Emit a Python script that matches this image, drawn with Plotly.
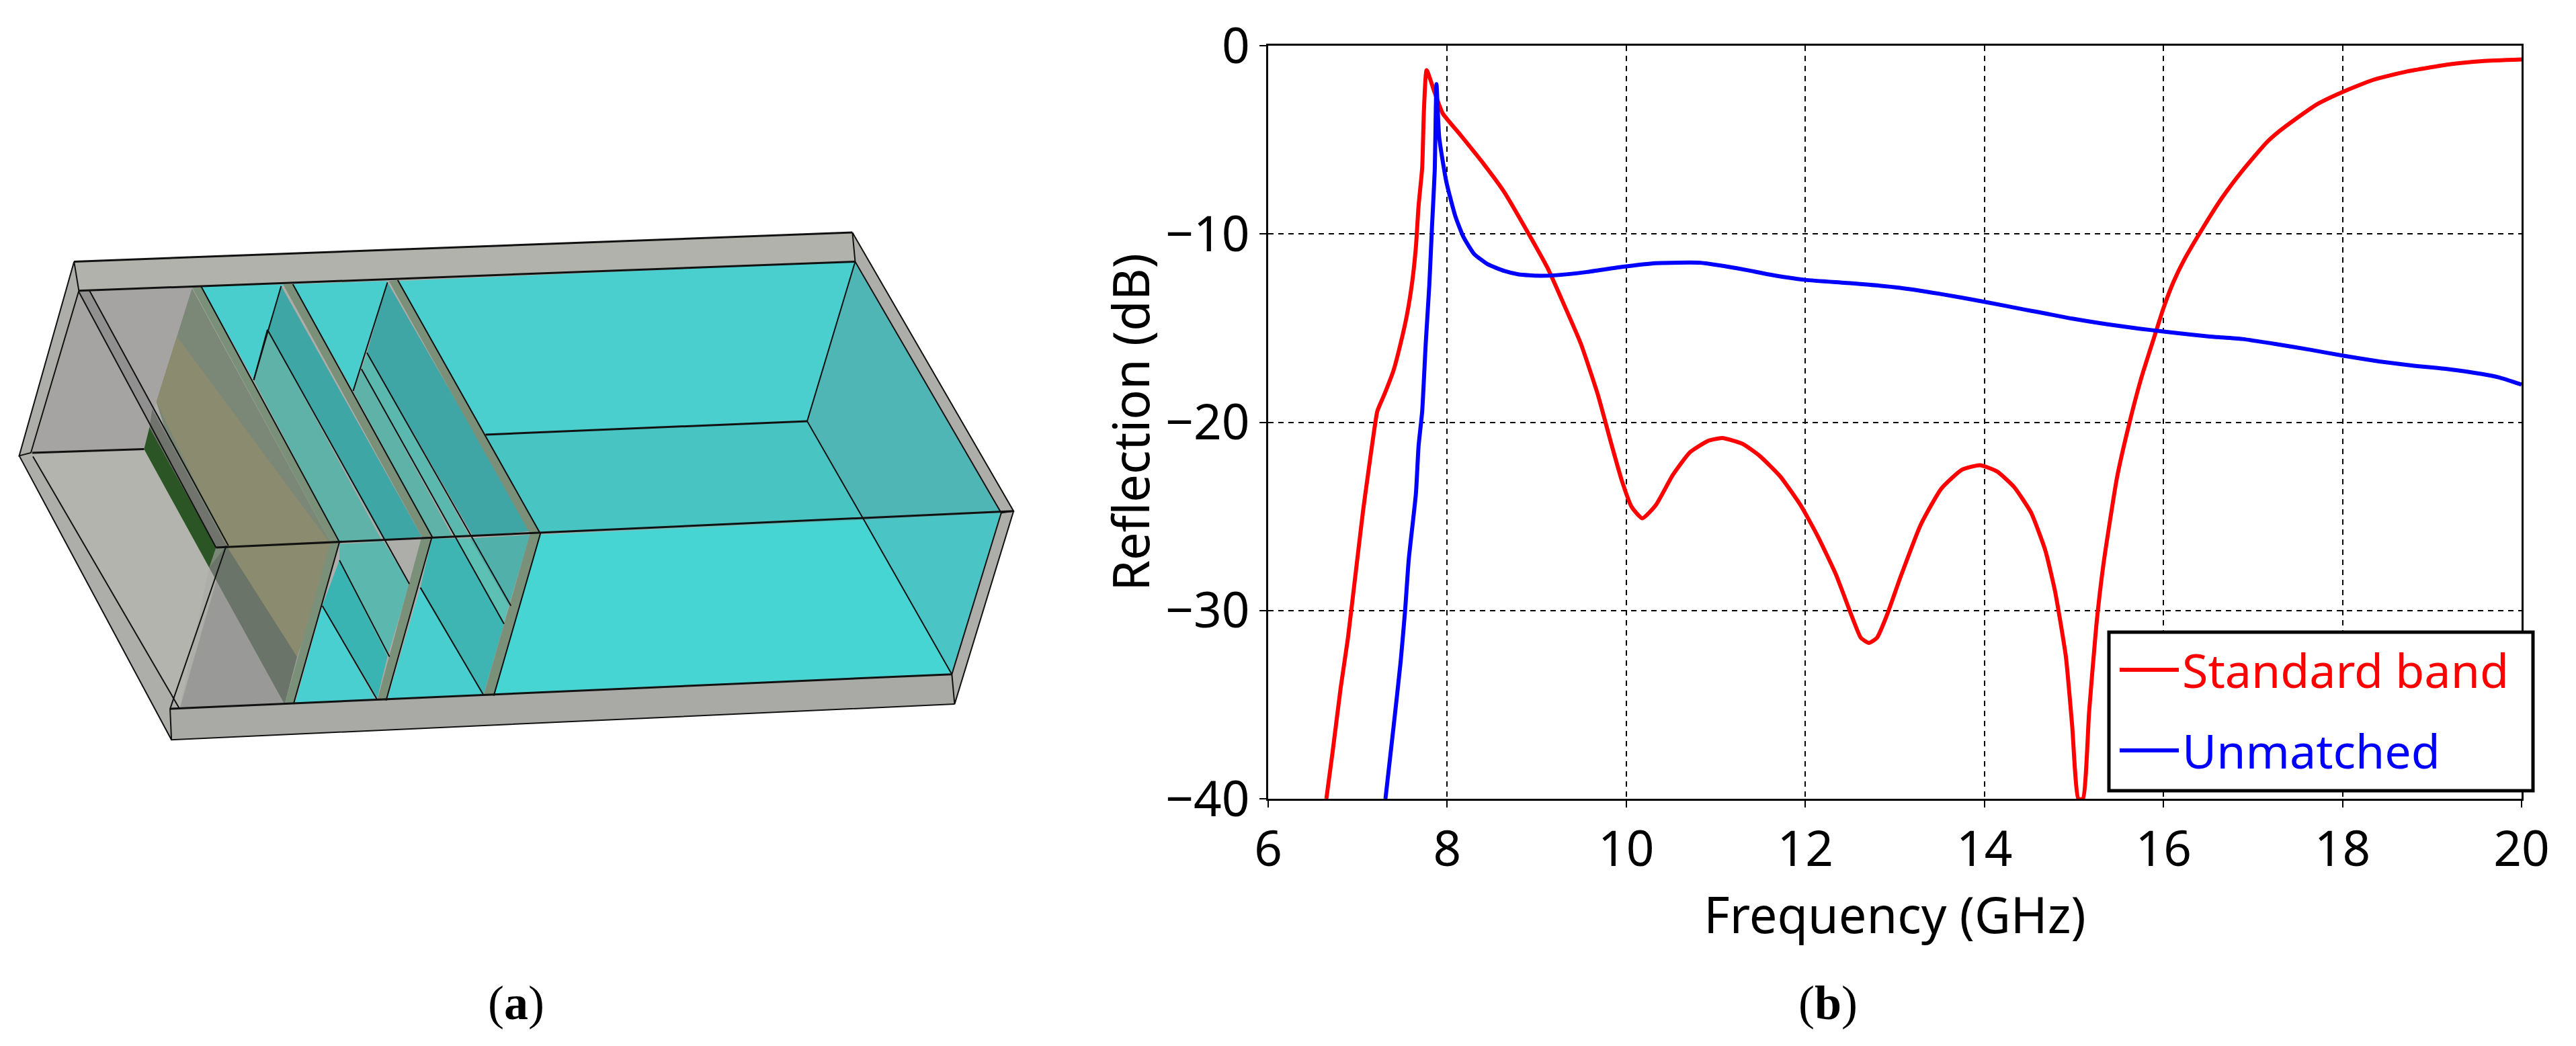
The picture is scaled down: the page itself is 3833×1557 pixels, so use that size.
import plotly.graph_objects as go

# (b) reflection curves
std_freq = [6.65, 6.72, 6.81, 6.89, 6.98, 7.06, 7.12, 7.17, 7.22, 7.30, 7.40, 7.47, 7.55, 7.61, 7.65,
            7.68, 7.72, 7.74, 7.77, 7.86, 7.95, 8.14, 8.41, 8.64, 8.91, 9.12, 9.29, 9.49, 9.68, 9.83,
            9.95, 10.06, 10.18, 10.33, 10.52, 10.71, 10.91, 11.07, 11.30, 11.49, 11.72, 11.95, 12.14,
            12.34, 12.53, 12.62, 12.71, 12.80, 12.91, 13.06, 13.29, 13.52, 13.75, 13.95, 14.14, 14.33,
            14.52, 14.68, 14.79, 14.91, 14.98, 15.05, 15.10, 15.17, 15.25, 15.33, 15.48, 15.60, 15.75,
            15.92, 16.0, 16.11, 16.23, 16.42, 16.65, 16.88, 17.15, 17.30, 17.46, 17.72, 18.0, 18.34, 18.72,
            19.18, 19.56, 20.0]
std_db = [-40, -37.5, -34.1, -31.5, -27.9, -24.7, -22.6, -20.9, -19.4, -18.5, -17.25, -16, -14.3, -12.5, -10.7,
          -8.5, -6.5, -3.4, -1.3, -2.5, -3.6, -4.7, -6.3, -7.8, -10, -11.8, -13.6, -15.8, -18.5, -21.1,
          -23.1, -24.5, -25.1, -24.4, -22.8, -21.6, -21.0, -20.84, -21.15, -21.79, -22.88, -24.43, -26.07,
          -28.07, -30.44, -31.45, -31.72, -31.45, -30.26, -28.26, -25.43, -23.52, -22.52, -22.28, -22.61, -23.43,
          -24.79, -26.8, -29, -32.45, -36.09, -40, -40, -35.36, -30.8, -27.53, -22.97, -20.42, -17.69,
          -15.13, -13.94, -12.57, -11.39, -9.84, -8.11, -6.65, -5.15, -4.52, -3.95, -3.1, -2.46, -1.82, -1.37,
          -1.0, -0.82, -0.73]
unm_freq = [7.31, 7.40, 7.48, 7.53, 7.57, 7.65, 7.68, 7.72, 7.76, 7.80, 7.83, 7.86, 7.88, 7.91, 7.99, 8.09,
            8.18, 8.30, 8.45, 8.64, 8.80, 9.03, 9.22, 9.56, 9.95, 10.33, 10.83, 11.11, 11.36, 11.57, 12.0,
            12.53, 13.06, 13.49, 14.02, 14.45, 14.58, 14.97, 15.35, 15.73, 16.0, 16.5, 16.88, 17.26, 17.65,
            18.0, 18.41, 18.8, 19.18, 19.56, 19.75, 20.0]
unm_db = [-40, -36.2, -32.7, -29.96, -27.3, -23.8, -21.26, -19.44, -15.8, -12.7, -9.6, -6.68, -2.04, -4.86, -7.23, -9.05,
          -10.15, -11.06, -11.6, -11.97, -12.15, -12.22, -12.19, -12.02, -11.75, -11.55, -11.53, -11.72, -11.93, -12.13, -12.44,
          -12.62, -12.86, -13.17, -13.62, -14.02, -14.13, -14.49, -14.78, -15.03, -15.18, -15.44, -15.58, -15.85, -16.16,
          -16.46, -16.77, -17.0, -17.18, -17.44, -17.62, -18.0]
x_ticks = [6, 8, 10, 12, 14, 16, 18, 20]
y_ticks = [0, -10, -20, -30, -40]

# (a) model drawing, faces painted back to front
panels = [
    ('#adadaa', [(108, 165), (1243, 85), (1478, 850), (1392, 1380), (250, 1478), (28, 698)]),
    ('#a9a9a6', [(248, 1393), (1388, 1298), (1392, 1380), (250, 1478)]),
    ('#b1b2ac', [(108, 165), (1243, 85), (1247, 165), (115, 245)]),
    ('#a6a4a2', [(47, 688), (115, 248), (280, 236), (228, 550), (210, 680)]),
    ('#b3b4ae', [(47, 695), (210, 682), (305, 1005), (262, 1393)]),
    ('#999998', [(262, 1393), (330, 945), (480, 940), (415, 1380)]),
    ('#909090', [(115, 248), (130, 243), (333, 945), (315, 950)]),
    ('#4acece', [(580, 218), (1247, 165), (1177, 603), (708, 640)]),
    ('#48c4c2', [(708, 640), (1177, 603), (1260, 875), (785, 912)]),
    ('#47d5d4', [(785, 915), (1260, 875), (1388, 1298), (720, 1355)]),
    ('#50b5b5', [(1247, 165), (1460, 855), (1260, 875), (1177, 603)]),
    ('#4bc4c6', [(1260, 875), (1460, 855), (1388, 1298)]),
    ('#49cdcd', [(293, 232), (413, 228), (370, 490)]),
    ('#49cdcd', [(427, 227), (565, 218), (515, 520)]),
    ('#5fb2a8', [(390, 352), (370, 490), (495, 935), (558, 935)]),
    ('#3fa6a6', [(410, 232), (390, 352), (560, 930), (615, 920)]),
    ('#5fb2a8', [(527, 460), (515, 520), (630, 920), (660, 920)]),
    ('#5ab8ae', [(535, 415), (527, 460), (665, 920), (685, 920)]),
    ('#40a5a5', [(565, 222), (535, 415), (690, 920), (775, 905)]),
    ('#5cb8ae', [(495, 940), (560, 935), (597, 1050), (565, 1250), (495, 985)]),
    ('#39b4b2', [(495, 985), (565, 1250), (550, 1365), (470, 1110)]),
    ('#49cfcf', [(470, 1110), (430, 1380), (548, 1370)]),
    ('#3fb5b3', [(630, 925), (665, 925), (735, 1160), (705, 1355), (613, 1060)]),
    ('#5cc0b4', [(665, 925), (685, 925), (742, 1110), (735, 1160)]),
    ('#52b0aa', [(685, 925), (773, 915), (742, 1110)]),
    ('#48cece', [(613, 1060), (705, 1355), (565, 1365)]),
    ('#7b8777', [(280, 238), (228, 550), (305, 1005), (415, 1380), (433, 1250), (482, 935)]),
    ('#8b8b6f', [(258, 370), (228, 550), (330, 945), (433, 1250), (470, 1070), (482, 940)]),
    ('#6b7468', [(305, 1005), (330, 945), (433, 1250), (415, 1380)]),
    ('#70746c', [(222, 570), (218, 620), (315, 950), (330, 945)]),
    ('#2b5525', [(218, 620), (210, 680), (305, 1005), (315, 950)]),
    ('#7a9078', [(280, 235), (293, 232), (495, 935), (428, 1380), (415, 1380), (482, 935)]),
    ('#7a9078', [(413, 228), (427, 227), (630, 920), (563, 1370), (550, 1370), (615, 920)]),
    ('#7a9078', [(567, 218), (580, 216), (788, 912), (720, 1357), (705, 1357), (773, 912)]),
]
thin_edges = [
    [(108, 165), (115, 245), (45, 690), (28, 698), (108, 165)],
    [(1243, 85), (1247, 165), (1460, 855), (1478, 850), (1243, 85)],
    [(1478, 850), (1392, 1380), (1388, 1298), (1460, 855)],
    [(1392, 1380), (250, 1478), (248, 1393), (330, 945)],
    [(250, 1478), (28, 698)],
    [(48, 700), (262, 1393)],
    [(115, 248), (315, 950)],
    [(130, 243), (333, 945)],
    [(1247, 165), (1177, 603), (1260, 875), (1388, 1298)],
    [(293, 232), (495, 935), (428, 1380)],
    [(427, 227), (630, 920), (563, 1370)],
    [(580, 216), (788, 912), (720, 1357)],
    [(390, 352), (370, 490)],
    [(390, 352), (597, 1050)],
    [(495, 985), (568, 1250)],
    [(470, 1110), (550, 1368)],
    [(410, 232), (370, 490)],
    [(535, 415), (745, 1110)],
    [(527, 460), (735, 1160)],
    [(565, 222), (515, 520)],
    [(613, 1060), (705, 1355)],
]
heavy_edges = [
    [(108, 165), (1243, 85)],
    [(115, 245), (1247, 165)],
    [(47, 690), (210, 680)],
    [(315, 950), (1478, 850)],
    [(708, 640), (1177, 603)],
    [(248, 1393), (1388, 1298)],
]

# page has an 8px body margin, so work in picture pixels and shift
W, H = 3825, 1549


def px(p):
    return (p - 8) / W


def py(p):
    return 1 - (p - 8) / H


fig = go.Figure()

for color, points in panels:
    fig.add_trace(go.Scatter(
        x=[p[0] for p in points] + [points[0][0]],
        y=[p[1] for p in points] + [points[0][1]],
        mode='lines', fill='toself', fillcolor=color,
        line=dict(width=0), hoverinfo='skip', showlegend=False,
        xaxis='x2', yaxis='y2',
    ))

for edges, width in ((thin_edges, 2), (heavy_edges, 3)):
    xs, ys = [], []
    for edge in edges:
        xs += [p[0] for p in edge] + [None]
        ys += [p[1] for p in edge] + [None]
    fig.add_trace(go.Scatter(
        x=xs, y=ys, mode='lines', line=dict(color='#111111', width=width),
        hoverinfo='skip', showlegend=False, xaxis='x2', yaxis='y2',
    ))

fig.add_trace(go.Scatter(x=std_freq, y=std_db, mode='lines', name='<span style="color:#ff0000">Standard band</span>',
                         line=dict(color='#ff0000', width=6, shape='spline', smoothing=0.5), legendgroup='a'))
fig.add_trace(go.Scatter(x=unm_freq, y=unm_db, mode='lines', name='<span style="color:#0000ff">Unmatched</span>',
                         line=dict(color='#0000ff', width=6, shape='spline', smoothing=0.5), legendgroup='b'))

axis_style = dict(
    showline=True, mirror=True, linecolor='#000000', linewidth=2.5,
    ticks='outside', ticklen=10, tickwidth=2, tickcolor='#000000',
    showgrid=True, gridcolor='#000000', gridwidth=2, griddash='8px,7px',
    zeroline=False, tickfont=dict(size=73, color='#000000'), automargin=False,
)

fig.update_layout(
    width=W, height=H,
    margin=dict(l=0, r=0, t=0, b=0, pad=0, autoexpand=False),
    paper_bgcolor='white', plot_bgcolor='white',
    font=dict(family='Noto Sans', color='#000000'),
    xaxis=dict(axis_style, domain=[px(1887), px(3752)], range=[6, 20], tickvals=x_ticks,
               title=dict(text='Frequency (GHz)', font=dict(size=74), standoff=25)),
    yaxis=dict(axis_style, domain=[py(1189), py(68)], range=[-40, 0], tickvals=y_ticks,
               title=dict(text='Reflection (dB)', font=dict(size=74), standoff=0)),
    xaxis2=dict(domain=[px(8), px(1600)], range=[8 * 0.98, 1568], visible=False, anchor='y2'),
    yaxis2=dict(domain=[py(1150), py(300)], range=[1568, 0], visible=False, anchor='x2'),
    legend=dict(
        x=px(3149), xanchor='left', y=py(945), yanchor='top',
        bgcolor='rgba(0,0,0,0)', borderwidth=0,
        font=dict(size=70), itemwidth=88, tracegroupgap=26, traceorder='grouped',
    ),
    shapes=[dict(type='rect', xref='paper', yref='paper', layer='above',
                 x0=px(3138), x1=px(3769), y0=py(1177), y1=py(941),
                 fillcolor='white', line=dict(color='#000000', width=5))],
    annotations=[
        dict(text='(<b>a</b>)', x=px(768), y=py(1493), xref='paper', yref='paper', showarrow=False,
             xanchor='center', yanchor='middle',
             font=dict(family='Liberation Serif', size=72, color='#000000')),
        dict(text='(<b>b</b>)', x=px(2720), y=py(1493), xref='paper', yref='paper', showarrow=False,
             xanchor='center', yanchor='middle',
             font=dict(family='Liberation Serif', size=72, color='#000000')),
    ],
)

fig.write_html("out.html")
